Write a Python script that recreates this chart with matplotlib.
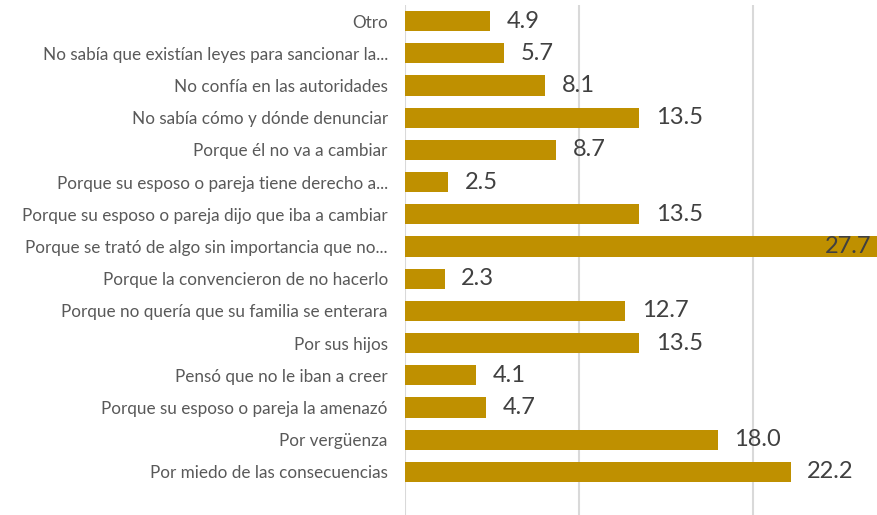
import matplotlib
matplotlib.use("Agg")
import matplotlib.pyplot as plt

categories = [
    "Otro",
    "No sabía que existían leyes para sancionar la...",
    "No confía en las autoridades",
    "No sabía cómo y dónde denunciar",
    "Porque él no va a cambiar",
    "Porque su esposo o pareja tiene derecho a...",
    "Porque su esposo o pareja dijo que iba a cambiar",
    "Porque se trató de algo sin importancia que no...",
    "Porque la convencieron de no hacerlo",
    "Porque no quería que su familia se enterara",
    "Por sus hijos",
    "Pensó que no le iban a creer",
    "Porque su esposo o pareja la amenazó",
    "Por vergüenza",
    "Por miedo de las consecuencias",
]
values = [4.9, 5.7, 8.1, 13.5, 8.7, 2.5, 13.5, 27.7, 2.3, 12.7, 13.5, 4.1, 4.7, 18.0, 22.2]
value_labels = ["4.9", "5.7", "8.1", "13.5", "8.7", "2.5", "13.5", "27.7", "2.3", "12.7", "13.5", "4.1", "4.7", "18.0", "22.2"]

plt.rcParams['font.family'] = ['Lato', 'DejaVu Sans']

W, H = 877, 515
fig = plt.figure(figsize=(W / 100, H / 100), dpi=100)
left_px, right_px, top_px, bottom_px = 404.5, 877, 5, 515
ax = fig.add_axes([left_px / W, 1 - bottom_px / H, (right_px - left_px) / W, (bottom_px - top_px) / H])

xmax = (right_px - left_px) / 17.4
ypos = list(range(len(categories)))
ax.barh(ypos, values, height=0.63, color="#BF9000", zorder=2)
ax.set_xlim(0, xmax)
ax.set_ylim(15.34, -0.5)
ax.set_xticks([0, 10, 20])
ax.xaxis.grid(True, color="#D9D9D9", linewidth=1.5, zorder=0)
ax.tick_params(axis="x", length=0, labelbottom=False)
ax.tick_params(axis="y", length=0, pad=12)
ax.set_yticks(ypos)
ax.set_yticklabels(categories, fontsize=12.3, color="#595959")
for s in ax.spines.values():
    s.set_visible(False)

for y, v, lab in zip(ypos, values, value_labels):
    if v > xmax - 2:
        ax.text(xmax - 0.3, y, lab, ha="right", va="center", fontsize=17, color="#404040", zorder=3)
    else:
        ax.text(v + 0.95, y, lab, ha="left", va="center", fontsize=17, color="#404040", zorder=3)

fig.savefig("out.png", dpi=100)
